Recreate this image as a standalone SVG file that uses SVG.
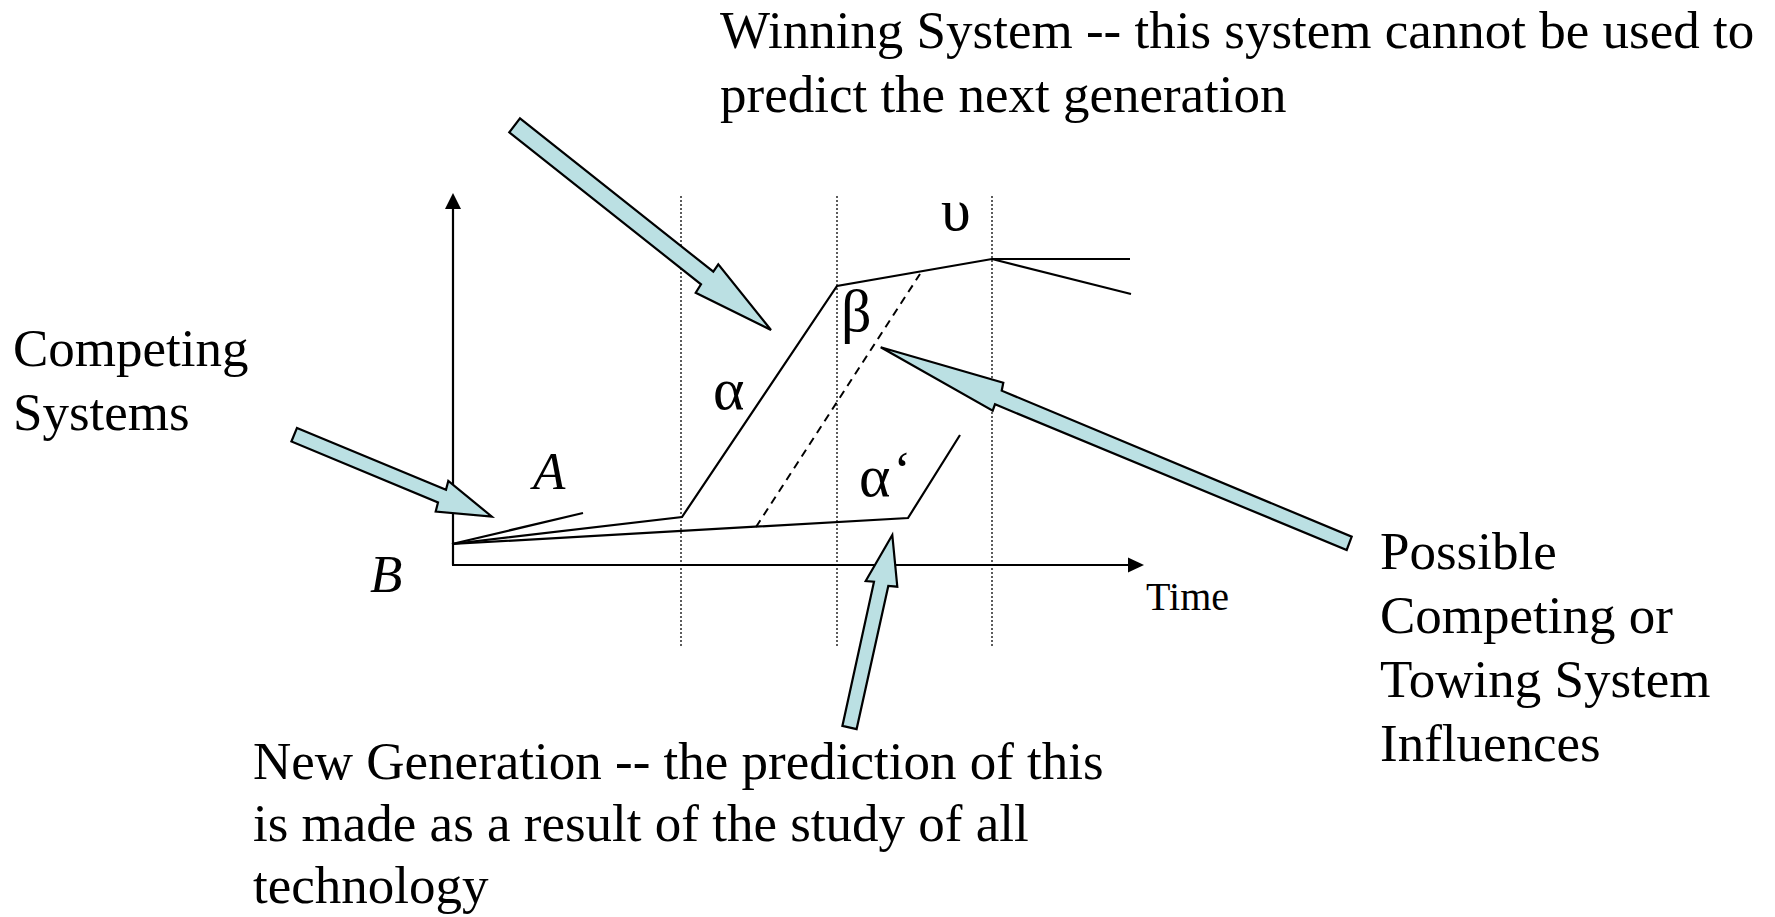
<svg xmlns="http://www.w3.org/2000/svg" width="1775" height="917" viewBox="0 0 1775 917">
<style>
text{font-family:"Liberation Serif","Times New Roman",serif;fill:#000;font-size:53px}
.it{font-style:italic}
.gk{font-size:60px}
.ln{fill:none;stroke:#000;stroke-width:2.2;stroke-linejoin:miter}
.dot{fill:none;stroke:#333;stroke-width:1.6;stroke-dasharray:2 2}
.dash{fill:none;stroke:#000;stroke-width:2;stroke-dasharray:8 6}
.big{fill:#BBE0E3;stroke:#000;stroke-width:2.2;stroke-linejoin:miter}
</style>
<rect width="1775" height="917" fill="#fff"/>
<g id="grid">
<line class="dot" x1="681" y1="196" x2="681" y2="646"/>
<line class="dot" x1="837" y1="196" x2="837" y2="646"/>
<line class="dot" x1="992" y1="196" x2="992" y2="646"/>
</g>
<g id="axes">
<line class="ln" x1="453" y1="565" x2="453" y2="207"/>
<polygon points="453,193 445,209 461,209" fill="#000"/>
<line class="ln" x1="452" y1="565" x2="1130" y2="565"/>
<polygon points="1144,565 1128,557.5 1128,572.5" fill="#000"/>
<text x="1146" y="610" style="font-size:40px">Time</text>
</g>
<g id="curves">
<polyline class="ln" points="452,544 583,513"/>
<polyline class="ln" points="452,544 682,517 837,286 992,259 1130,259"/>
<polyline class="ln" points="992,259 1131,294"/>
<polyline class="ln" points="452,544 908,518 960,435"/>
<line class="dash" x1="756" y1="527" x2="920" y2="274"/>
</g>
<g id="labels">
<text class="it" x="533" y="489">A</text>
<text class="it" x="370" y="592">B</text>
<text class="gk" x="713" y="409">α</text>
<text class="gk" x="841" y="331">β</text>
<text class="gk" x="941" y="230">υ</text>
<text class="gk" x="859" y="496">α<tspan dx="3" dy="-8" style="font-size:53px">‘</tspan></text>
</g>
<g id="connectors">
<polygon class="big" points="520,118.3 713.3,271.7 718.3,264.3 771,330 695.7,292.7 701,284.3 509.3,132.3"/>
<polygon class="big" points="297,427.9 446,489.7 448.3,481 491.7,516.5 435.7,511.5 438,502.5 291.4,441.5"/>
<polygon class="big" points="880.7,347.3 1003.3,382.7 1001.7,390.7 1351.7,536.7 1346.7,550 995,404.3 992.7,410.7"/>
<polygon class="big" points="892.3,535 897.3,586.7 888.3,586 856.6,729.1 842.4,725.9 874,581.7 865.7,581"/>
</g>
<g id="winning">
<text x="720" y="48">Winning System -- this system cannot be used to</text>
<text x="720" y="112">predict the next generation</text>
</g>
<g id="competing">
<text x="13" y="366">Competing</text>
<text x="13" y="430">Systems</text>
</g>
<g id="influences">
<text x="1380" y="569">Possible</text>
<text x="1380" y="633">Competing or</text>
<text x="1380" y="697">Towing System</text>
<text x="1380" y="761">Influences</text>
</g>
<g id="newgen">
<text x="253" y="779">New Generation -- the prediction of this</text>
<text x="253" y="841">is made as a result of the study of all</text>
<text x="253" y="903">technology</text>
</g>
</svg>
